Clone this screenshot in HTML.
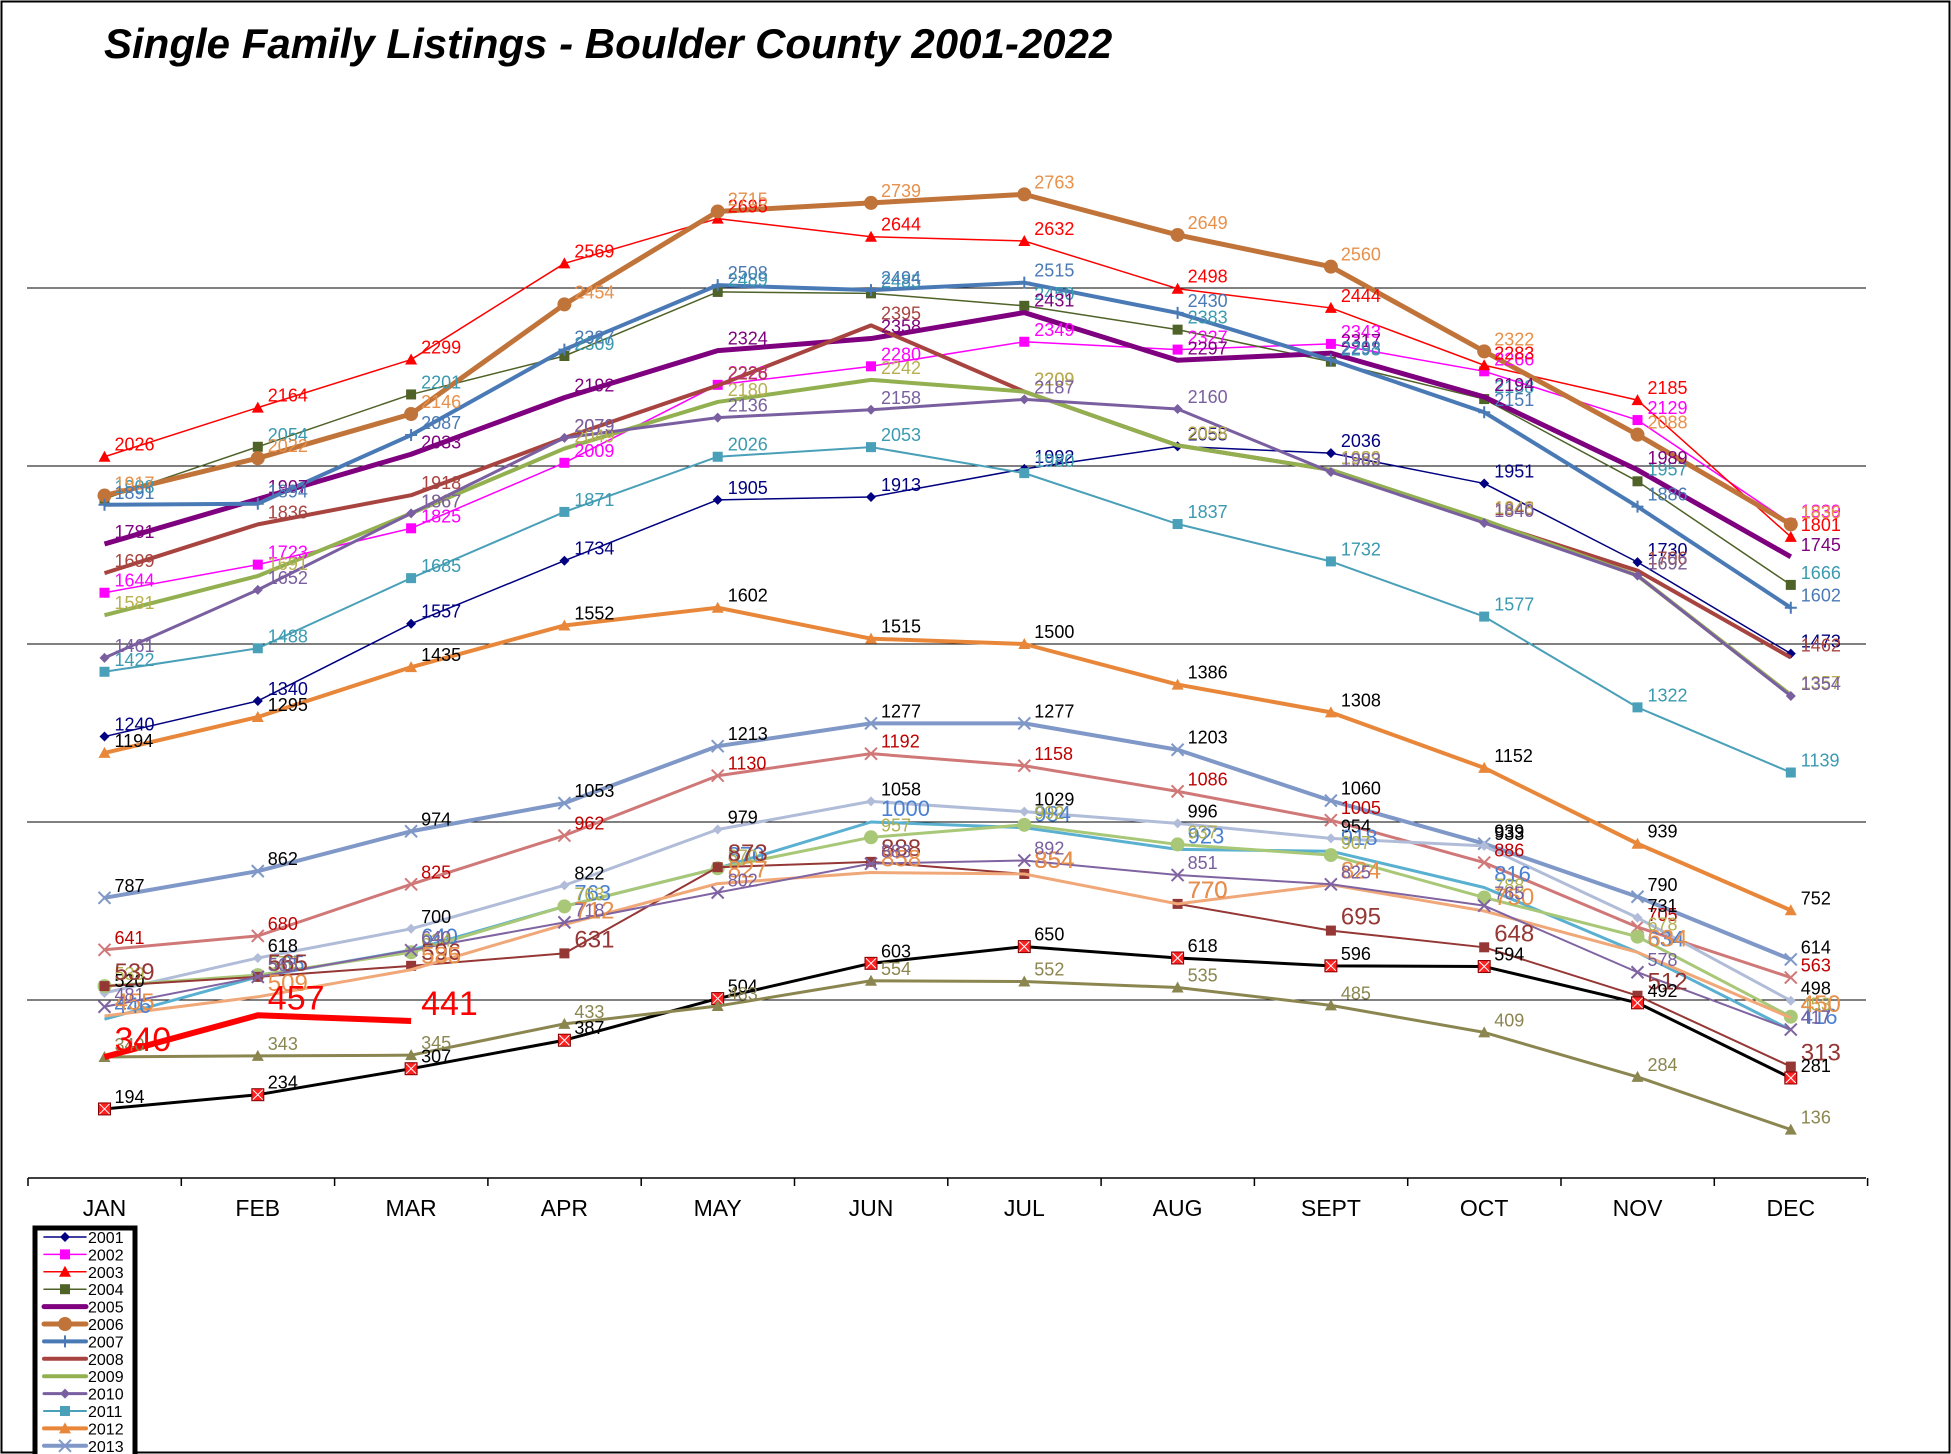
<!DOCTYPE html>
<html><head><meta charset="utf-8"><style>
body{margin:0;background:#fff;}
svg{display:block;font-family:"Liberation Sans",Arial,sans-serif;}
</style></head><body>
<svg id="chart" width="1951" height="1454" viewBox="0 0 1951 1454" xmlns="http://www.w3.org/2000/svg">
<rect x="1.5" y="1.5" width="1948" height="1451" fill="#fff" stroke="#000" stroke-width="2"/>
<text x="104" y="58" font-size="42" font-weight="bold" font-style="italic">Single Family Listings - Boulder County 2001-2022</text>
<g id="grid"></g>
<g id="axis"></g>
<g id="series"></g>
<g id="labels"></g>
<g id="legend"></g>
</svg>
<script>
const months = ["JAN","FEB","MAR","APR","MAY","JUN","JUL","AUG","SEPT","OCT","NOV","DEC"];
const yTicks = [500,1000,1500,2000,2500];
const years = ["2001","2002","2003","2004","2005","2006","2007","2008","2009","2010","2011","2012","2013","2014","2015","2016","2017","2018","2019","2020","2021","2022","2023"];
const s2001 = [1240,1340,1557,1734,1905,1913,1992,2055,2036,1951,1730,1473];
const s2002 = [1644,1723,1825,2009,2228,2280,2349,2327,2343,2266,2129,1839];
const s2003 = [2026,2164,2299,2569,2695,2644,2632,2498,2444,2283,2185,1801];
const s2004 = [1908,2054,2201,2309,2489,2485,2450,2383,2293,2188,1957,1666];
const s2005 = [1781,1907,2033,2192,2324,2358,2431,2297,2317,2194,1989,1745];
const s2006 = [1917,2022,2146,2454,2715,2739,2763,2649,2560,2322,2088,1836];
const s2007 = [1891,1894,2087,2327,2508,2494,2515,2430,2298,2151,1886,1602];
const s2008 = [1699,1836,1918,2079,2226,2395,2209,2058,1989,1845,1706,1462];
const s2009 = [1581,1691,1867,2049,2180,2242,2209,2058,1989,1848,1692,1357];
const s2010 = [1461,1652,1867,2079,2136,2158,2187,2160,1983,1840,1692,1354];
const s2011 = [1422,1488,1685,1871,2026,2053,1980,1837,1732,1577,1322,1139];
const s2012 = [1194,1295,1435,1552,1602,1515,1500,1386,1308,1152,939,752];
const s2013 = [787,862,974,1053,1213,1277,1277,1203,1060,939,790,614];
const s2014 = [641,680,825,962,1130,1192,1158,1086,1005,886,705,563];
const s2015 = [520,618,700,822,979,1058,1029,996,954,933,731,498];
const s2016 = [446,565,640,763,870,1000,984,923,918,816,634,416];
const s2017 = [539,570,634,763,870,957,992,937,907,788,678,453];
const s2018 = [539,565,596,631,873,888,854,770,695,648,512,313];
const s2019 = [455,509,585,712,827,858,854,770,824,750,634,450];
const s2020 = [481,565,640,718,802,883,892,851,825,765,578,417];
const s2021 = [194,234,307,387,504,603,650,618,596,594,492,281];
const s2022 = [340,343,345,433,483,554,552,535,485,409,284,136];
const s2023 = [340,457,441];
const allSeries = [s2001,s2002,s2003,s2004,s2005,s2006,s2007,s2008,s2009,s2010,s2011,s2012,s2013,s2014,s2015,s2016,s2017,s2018,s2019,s2020,s2021,s2022,s2023];
const colors = ["#000080","#ff00ff","#ff0000","#4f6228","#7f007f","#c0743a","#4a7ab5","#a84440","#92b050","#7a5fa0","#4aa0b8","#e8873a","#7f98c8","#d07878","#b0bcd8","#5ab0d0","#a8c878","#953735","#f0a878","#8064a2","#000000","#8b8650","#ff0000"];
const labelColors = ["#000080","#ff00ff","#ff0000","#3a9ab0","#7f007f","#e8904a","#4a7ab5","#a84440","#b8b050","#7a5fa0","#3a9ab0","#000000","#000000","#c00000","#000000","#4a80d0","#b0b050","#953735","#e8904a","#7a5fa0","#000000","#8b8650","#ff0000"];
const widths = [1.5,1.5,1.5,1.5,5,5,4,4,4,3,2,4,4,3,3,3,3,2,3,2,3,3,6];
const markers = ["diamond","square","triangle","square","none","circle","plus","none","none","diamond","square","triangle","x","x","diamond","none","circle","square","none","x","squarex","triangle","none"];
const labelSizes = [18,18,18,18,18,18,18,18,18,18,18,18,18,18,18,22,18,24,24,18,18,18,34];

const X0=104.5, DX=153.3, Y0=1178, K=178/500;
const xs = i => X0 + i*DX;
const ys = v => Y0 - v*K;
const NS="http://www.w3.org/2000/svg";
function mk(tag, attrs, parent){const e=document.createElementNS(NS,tag);for(const k in attrs)e.setAttribute(k,attrs[k]);parent.appendChild(e);return e;}

const grid=document.getElementById('grid');
yTicks.forEach(t=>{
  const l=mk('line',{x1:27,x2:1866,y1:ys(t),y2:ys(t),stroke:'#000','stroke-width':1},grid);
  
  
});
const axis=document.getElementById('axis');
const base=mk('line',{x1:28,x2:1866,y1:Y0,y2:Y0,stroke:'#000','stroke-width':1.5},axis);


for(let i=0;i<=12;i++){
  const t=mk('line',{x1:28+i*DX,x2:28+i*DX,y1:Y0,y2:Y0+8,stroke:'#000','stroke-width':1.5},axis);
  
  
}
months.forEach((m,i)=>{
  const t=mk('text',{x:xs(i),y:1216,'font-size':23,'text-anchor':'middle'},axis);
  t.textContent=m;
  
  
});

function marker(type,x,y,c,g){
  let e;
  if(type==='diamond') e=mk('path',{d:`M${x} ${y-5}L${x+5} ${y}L${x} ${y+5}L${x-5} ${y}Z`,fill:c},g);
  else if(type==='square') e=mk('rect',{x:x-5,y:y-5,width:10,height:10,fill:c},g);
  else if(type==='triangle') e=mk('path',{d:`M${x} ${y-6}L${x+6} ${y+5}L${x-6} ${y+5}Z`,fill:c},g);
  else if(type==='circle') e=mk('circle',{cx:x,cy:y,r:7,fill:c},g);
  else if(type==='plus') e=mk('path',{d:`M${x-6} ${y}H${x+6}M${x} ${y-6}V${y+6}`,stroke:c,'stroke-width':2},g);
  else if(type==='x') e=mk('path',{d:`M${x-6} ${y-6}L${x+6} ${y+6}M${x+6} ${y-6}L${x-6} ${y+6}`,stroke:c,'stroke-width':2},g);
  else if(type==='squarex'){ e=mk('rect',{x:x-6,y:y-6,width:12,height:12,fill:'#ff2020',stroke:'#800','stroke-width':1},g);
    mk('path',{d:`M${x-5} ${y-5}L${x+5} ${y+5}M${x+5} ${y-5}L${x-5} ${y+5}`,stroke:'#fff','stroke-width':1},g);}
  if(e){}
}

const sg=document.getElementById('series'), lg=document.getElementById('labels');
allSeries.forEach((data,si)=>{
  const g=mk('g',{},sg);
  
  
  const d=data.map((v,i)=>(i?'L':'M')+xs(i)+' '+ys(v)).join('');
  const p=mk('path',{d:d,fill:'none',stroke:colors[si],'stroke-width':widths[si],'stroke-linejoin':'round'},g);
  
  
  data.forEach((v,i)=>marker(markers[si],xs(i),ys(v),colors[si],g));
  data.forEach((v,i)=>{
    const t=mk('text',{x:xs(i)+10,y:ys(v)-6,'font-size':labelSizes[si],fill:labelColors[si]},lg);
    t.textContent=v;
    
    
  });
});

const leg=document.getElementById('legend');
const box=mk('rect',{x:35,y:1228,width:100,height:240,fill:'#fff',stroke:'#000','stroke-width':5},leg);


for(let i=0;i<13;i++){
  const y=1237+i*17.4;
  const g=mk('g',{},leg);
  
  
  mk('line',{x1:44,x2:86,y1:y,y2:y,stroke:colors[i],'stroke-width':Math.min(widths[i],5),'stroke-linecap':'round'},g);
  if(markers[i]!=='none'){const m=markers[i];marker(m,65,y,colors[i],g);}
  const t=mk('text',{x:88,y:y+6,'font-size':16},g);
  t.textContent=years[i];
}
</script>
</body></html>
